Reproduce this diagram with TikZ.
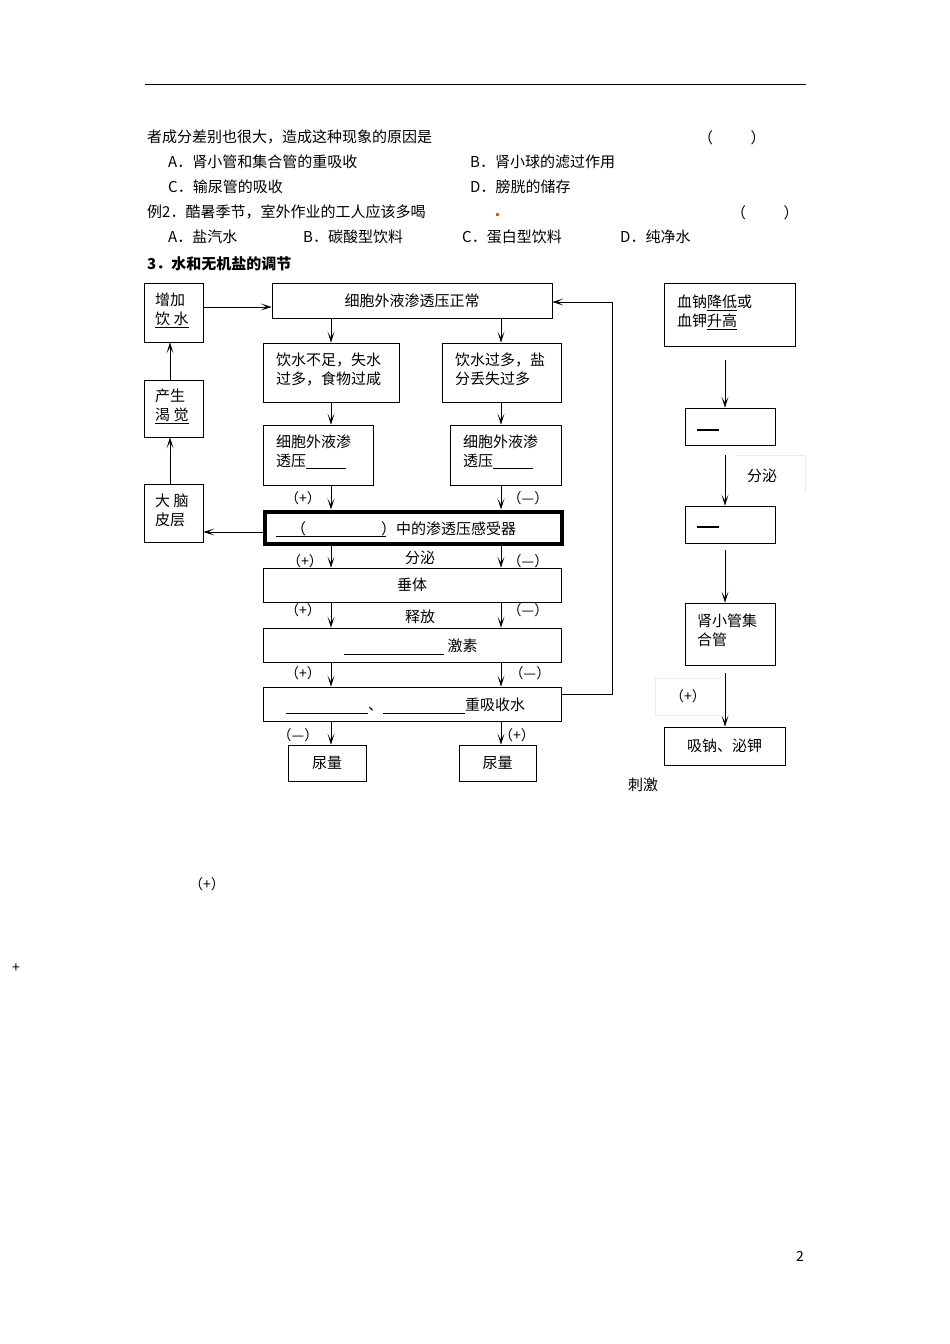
\documentclass[tikz,border=0pt]{standalone}
\usepackage{fontspec}
\setmainfont{Noto Sans CJK SC}
\usetikzlibrary{arrows.meta}
\begin{document}
\begin{tikzpicture}[x=1pt,y=-1pt,
  bx/.style={draw,line width=0.8pt,rectangle},
  tx/.style={anchor=north west,inner sep=0pt,align=left,yshift=-3pt,font=\fontsize{15}{19}\selectfont},
  lb/.style={inner sep=0pt,font=\fontsize{14}{16}\selectfont},
  ar/.style={line width=0.8pt,-{Stealth[length=11pt,width=7pt,inset=6pt]}},
  ln/.style={line width=0.8pt}]
\useasboundingbox (0,0) rectangle (950,1344);
\fill[white] (0,0) rectangle (950,1344);
\draw[line width=0.8pt] (145,84) -- (806,84);
\begin{scope}[every node/.style={tx}]
\node at (147,127) {者成分差别也很大，造成这种现象的原因是};
\node at (698,127) {（\hspace{2.5em}）};
\node at (168,152) {A．肾小管和集合管的重吸收};
\node at (470,152) {B．肾小球的滤过作用};
\node at (168,177) {C．输尿管的吸收};
\node at (470,177) {D．膀胱的储存};
\node at (147,202) {例2．酷暑季节，室外作业的工人应该多喝};
\node at (731,202) {（\hspace{2.5em}）};
\node at (168,227) {A．盐汽水};
\node at (303,227) {B．碳酸型饮料};
\node at (462,227) {C．蛋白型饮料};
\node at (620,227) {D．纯净水};
\node[font=\fontsize{15}{19}\selectfont\bfseries] at (147,253) {3．水和无机盐的调节};
\end{scope}
\fill[orange!80!black] (496,213) rectangle (499,216);
% left column
\node[bx,minimum width=59pt,minimum height=59pt] (zj) at (173.5,312.5) {};
\node[tx] at (155,290) {增加\\\underline{饮 水}};
\node[bx,minimum width=59pt,minimum height=57pt] (cs) at (173.5,408.5) {};
\node[tx] at (155,386) {产生\\\underline{渴 觉}};
\node[bx,minimum width=59pt,minimum height=58pt] (dn) at (173.5,513) {};
\node[tx] at (155,491) {大 脑\\皮层};
% main column
\node[bx,minimum width=280pt,minimum height=35pt,font=\fontsize{15}{19}\selectfont] (zc) at (412,300.5) {细胞外液渗透压正常};
\node[bx,minimum width=136pt,minimum height=59pt] (ys) at (331,372.5) {};
\node[tx] at (276,350) {饮水不足，失水\\过多，食物过咸};
\node[bx,minimum width=119pt,minimum height=59pt] (yg) at (501.5,372.5) {};
\node[tx] at (455,350) {饮水过多，盐\\分丢失过多};
\node[bx,minimum width=110pt,minimum height=60pt] (xl) at (318,455) {};
\node[tx] at (276,432) {细胞外液渗\\透压\rule[-2pt]{40pt}{0.6pt}};
\node[bx,minimum width=111pt,minimum height=60pt] (xr) at (505.5,455) {};
\node[tx] at (463,432) {细胞外液渗\\透压\rule[-2pt]{40pt}{0.6pt}};
\node[draw,line width=4pt,minimum width=297pt,minimum height=32pt] (gs) at (413,527.5) {};
\node[tx] at (276,518) {\rule[-3pt]{110pt}{0.6pt}\hspace{-110pt}\hspace{1em}（\hspace{5em}）中的渗透压感受器};
\node[bx,minimum width=298pt,minimum height=34pt,font=\fontsize{15}{19}\selectfont] (ct) at (412,585) {垂体};
\node[bx,minimum width=298pt,minimum height=34pt] (js) at (412,645) {};
\node[tx] at (344,636) {\rule[-3pt]{100pt}{0.6pt}\ 激素};
\node[bx,minimum width=298pt,minimum height=34pt] (cx) at (412,704) {};
\node[tx] at (286,695) {\rule[-3pt]{82pt}{0.6pt}、\rule[-3pt]{82pt}{0.6pt}重吸收水};
\node[bx,minimum width=78pt,minimum height=36pt,font=\fontsize{15}{19}\selectfont] (nl) at (327,763) {尿量};
\node[bx,minimum width=77pt,minimum height=36pt,font=\fontsize{15}{19}\selectfont] (nr) at (497.5,763) {尿量};
% main arrows
\foreach \a/\b/\x in {zc/ys/331,ys/xl/331,xl/gs/331,gs/ct/331,ct/js/331,js/cx/331,cx/nl/331,
                      zc/yg/501,yg/xr/501,xr/gs/501,gs/ct/501,ct/js/501,js/cx/501,cx/nr/501}
  \draw[ar] (\a.south -| \x,0) -- (\b.north -| \x,0);
\coordinate (fb1) at (612,694);
\coordinate (fb2) at (612,302);
\draw[ar] (cx.east |- fb1) -- (fb1) -- (fb2) -- (zc.east |- fb2);
\draw[ar] (zj.east |- 0,307) -- (zc.west |- 0,307);
\draw[ar] (gs.west |- 0,532) -- (dn.east |- 0,532);
\draw[ar] (dn.north -| 170,0) -- (cs.south -| 170,0);
\draw[ar] (cs.north -| 170,0) -- (zj.south -| 170,0);
\draw[ln] (155,437) -- (185,437);
\draw[ln] (155,342) -- (185,342);
% labels
\begin{scope}[every node/.style={lb}]
\node at (303,498) {（+）};
\node at (528,498) {（—）};
\node at (305,561) {（+）};
\node[font=\fontsize{15}{19}\selectfont] at (420,558) {分泌};
\node at (528,561) {（—）};
\node at (303,610) {（+）};
\node[font=\fontsize{15}{19}\selectfont] at (420,617) {释放};
\node at (528,610) {（—）};
\node at (303,673) {（+）};
\node at (530,673) {（—）};
\node at (298,735) {（—）};
\node at (517,735) {（+）};
\end{scope}
% right column
\node[bx,minimum width=131pt,minimum height=63pt] (xn) at (729.5,314.5) {};
\node[tx] at (677,292) {血钠\underline{降低}或\\血钾\underline{升高}};
\node[bx,minimum width=90pt,minimum height=37pt] (r1) at (730,426.5) {};
\draw[line width=1.2pt] (697,430) -- (719,430);
\node[bx,minimum width=90pt,minimum height=37pt] (r2) at (730,524.5) {};
\draw[line width=1.2pt] (697,527) -- (719,527);
\node[bx,minimum width=90pt,minimum height=62pt] (sg) at (730,634) {};
\node[tx] at (697,611) {肾小管集\\合管};
\node[bx,minimum width=121pt,minimum height=38pt,font=\fontsize{15}{19}\selectfont] (xnm) at (724.5,746) {吸钠、泌钾};
\coordinate (q1) at (725,360); \coordinate (q2) at (725,455);
\coordinate (q3) at (725,550); \coordinate (q4) at (725,673);
\draw[ar] (q1) -- (r1.north -| q1);
\draw[ar] (q2) -- (r2.north -| q2);
\draw[ar] (q3) -- (sg.north -| q3);
\draw[ar] (q4) -- (xnm.north -| q4);
\draw[black!8,line width=0.4pt] (735,455) -- (805,455) -- (805,492);
\draw[black!8,line width=0.4pt] (655,678) -- (720,678) (655,678) -- (655,715) -- (720,715);
\node[tx] at (747,466) {分泌};
\node[lb] at (688,696) {（+）};
\node[tx] at (628,775) {刺激};
\node[lb] at (207,884) {（+）};
\node[lb] at (16,968) {+};
\node[lb] at (800,1256) {2};
\end{tikzpicture}
\end{document}
